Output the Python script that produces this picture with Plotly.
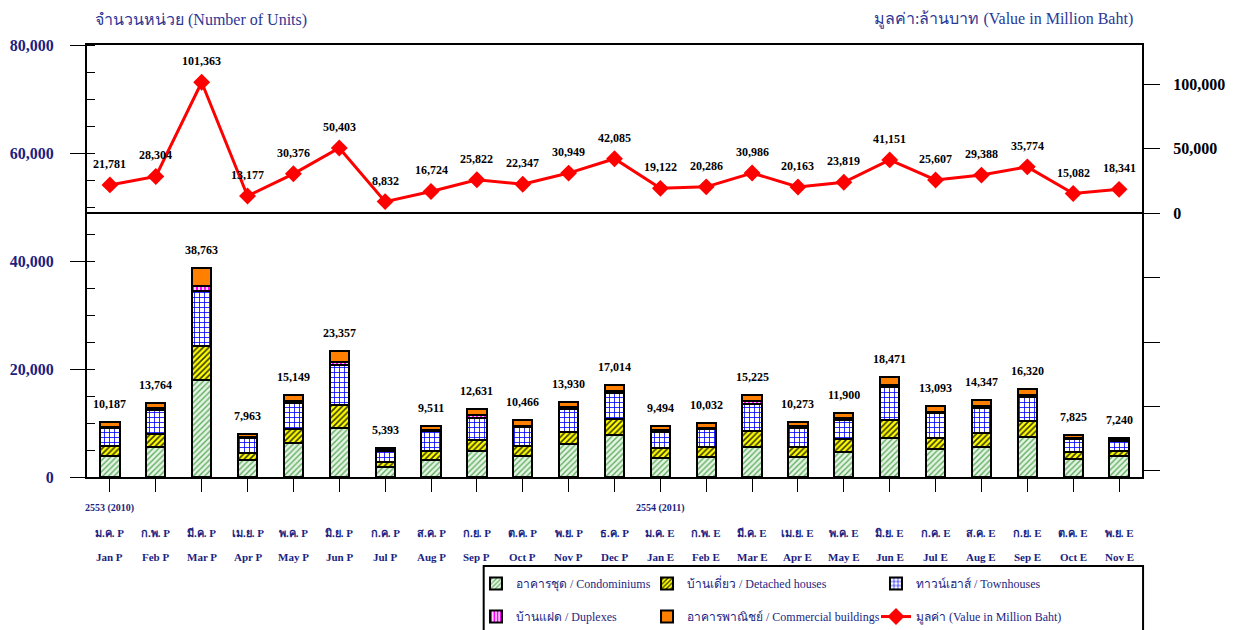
import plotly.graph_objects as go

# ---------------- data ----------------
months_en = ["Jan P", "Feb P", "Mar P", "Apr P", "May P", "Jun P", "Jul P", "Aug P",
             "Sep P", "Oct P", "Nov P", "Dec P", "Jan E", "Feb E", "Mar E", "Apr E",
             "May E", "Jun E", "Jul E", "Aug E", "Sep E", "Oct E", "Nov E"]
months_th = ["ม.ค. P", "ก.พ. P", "มี.ค. P", "เม.ย. P", "พ.ค. P", "มิ.ย. P", "ก.ค. P", "ส.ค. P",
             "ก.ย. P", "ต.ค. P", "พ.ย. P", "ธ.ค. P", "ม.ค. E", "ก.พ. E", "มี.ค. E", "เม.ย. E",
             "พ.ค. E", "มิ.ย. E", "ก.ค. E", "ส.ค. E", "ก.ย. E", "ต.ค. E", "พ.ย. E"]
year_labels = {0: "2553 (2010)", 12: "2554 (2011)"}

condominiums = [3900, 5600, 17900, 3100, 6300, 9100, 1800, 3100, 4750, 3900, 6100, 7850,
                3450, 3750, 5600, 3750, 4700, 7300, 5200, 5500, 7350, 3400, 3800]
detached = [1800, 2400, 6300, 1350, 2650, 4300, 1050, 1700, 2150, 1900, 2250, 2800,
            1850, 1850, 3000, 1850, 2250, 3250, 2100, 2600, 2950, 1150, 1100]
townhouses = [3300, 4400, 10200, 2750, 4750, 7400, 1900, 3650, 4100, 3400, 4300, 4900,
              3100, 3200, 5000, 3500, 3600, 6150, 4500, 4750, 4450, 2400, 1700]
duplexes = [200, 300, 1000, 250, 300, 500, 200, 300, 400, 300, 300, 400,
            300, 300, 400, 300, 300, 400, 300, 300, 450, 300, 250]
commercial = [987, 1064, 3363, 513, 1149, 2057, 443, 761, 1231, 966, 980, 1064,
              794, 932, 1225, 873, 1050, 1371, 993, 1197, 1120, 575, 390]
total_units = [10187, 13764, 38763, 7963, 15149, 23357, 5393, 9511, 12631, 10466, 13930, 17014,
               9494, 10032, 15225, 10273, 11900, 18471, 13093, 14347, 16320, 7825, 7240]
value_mb = [21781, 28304, 101363, 13177, 30376, 50403, 8832, 16724, 25822, 22347, 30949, 42085,
            19122, 20286, 30986, 20163, 23819, 41151, 25607, 29388, 35774, 15082, 18341]

left_ticks = [0, 20000, 40000, 60000, 80000]
right_ticks = [-200000, -150000, -100000, -50000, 0, 50000, 100000]
right_ticktext = ["", "", "", "", "0", "50,000", "100,000"]

# ---------------- style ----------------
SERIF = "Liberation Serif, Times New Roman, Noto Sans, DejaVu Serif, serif"
NAVY = "#1c1f82"
TITLE_BLUE = "#2b3896"
x = list(range(len(months_en)))
xr = [-0.5, len(months_en) - 0.5]
r_range = [-204660, 130240]

fig = go.Figure()

bar_specs = [
    ("อาคารชุด / Condominiums", condominiums, "legend",
     dict(shape="/", fgcolor="#5fae5f", bgcolor="#e6f4e6", size=4, solidity=0.35)),
    ("บ้านเดี่ยว / Detached houses", detached, "legend2",
     dict(shape="/", fgcolor="#3a3a00", bgcolor="#ffff00", size=4, solidity=0.4)),
    ("ทาวน์เฮาส์ / Townhouses", townhouses, "legend3",
     dict(shape="+", fgcolor="#0000ff", bgcolor="#ffffff", size=5, solidity=0.3)),
    ("บ้านแฝด / Duplexes", duplexes, "legend",
     dict(shape="|", fgcolor="#ff00ff", bgcolor="#ffd0ff", size=4, solidity=0.5)),
    ("อาคารพาณิชย์ / Commercial buildings", commercial, "legend2", None),
]
for i, (name, vals, leg, pat) in enumerate(bar_specs):
    marker = dict(line=dict(color="black", width=2))
    if pat is None:
        marker["color"] = "#ff8000"
    else:
        marker["color"] = pat["bgcolor"]
        marker["pattern"] = dict(fillmode="replace", **pat)
    fig.add_trace(go.Bar(x=x, y=vals, name=name, marker=marker, width=0.42,
                         legend=leg, legendgroup="g%d" % i, hoverinfo="y+name"))

fig.add_trace(go.Scatter(
    x=x, y=value_mb, yaxis="y2", name="มูลค่า (Value in Million Baht)",
    mode="lines+markers", line=dict(color="#ff0000", width=3),
    marker=dict(symbol="diamond", size=13, color="#ff0000"),
    legend="legend3", legendgroup="g9"))

annotations = []
for xi, t in zip(x, total_units):
    annotations.append(dict(x=xi, y=t, xref="x", yref="y", text="{:,}".format(t),
                            showarrow=False, yanchor="bottom", yshift=9,
                            font=dict(family=SERIF, size=12, color="black", weight="bold")))
for xi, v in zip(x, value_mb):
    annotations.append(dict(x=xi, y=v, xref="x", yref="y2", text="{:,}".format(v),
                            showarrow=False, yanchor="bottom", yshift=12,
                            font=dict(family=SERIF, size=12, color="black", weight="bold")))
for xi, th, en in zip(x, months_th, months_en):
    annotations.append(dict(x=xi, y=-0.1296, xref="x", yref="paper", text=th,
                            showarrow=False, yanchor="middle",
                            font=dict(family=SERIF, size=11, color=NAVY, weight="bold")))
    annotations.append(dict(x=xi, y=-0.185, xref="x", yref="paper", text=en,
                            showarrow=False, yanchor="middle",
                            font=dict(family=SERIF, size=11, color=NAVY, weight="bold")))
for xi, lab in year_labels.items():
    annotations.append(dict(x=xi, y=-0.0718, xref="x", yref="paper", text=lab,
                            showarrow=False, yanchor="middle",
                            font=dict(family=SERIF, size=10, color=NAVY, weight="bold")))
annotations.append(dict(x=0.0057, y=1.058, xref="paper", yref="paper",
                        text="จำนวนหน่วย (Number of Units)", showarrow=False,
                        xanchor="left", yanchor="middle",
                        font=dict(family=SERIF, size=16, color=TITLE_BLUE)))
annotations.append(dict(x=0.993, y=1.058, xref="paper", yref="paper",
                        text="มูลค่า:ล้านบาท (Value in Million Baht)", showarrow=False,
                        xanchor="right", yanchor="middle",
                        font=dict(family=SERIF, size=16, color=TITLE_BLUE)))

legend_common = dict(orientation="v", xref="container", yref="container",
                     yanchor="top", y=0.098, xanchor="left",
                     bgcolor="rgba(0,0,0,0)", borderwidth=0, tracegroupgap=14,
                     font=dict(family=SERIF, size=12, color=NAVY), itemwidth=30)

fig.update_layout(
    width=1227, height=622,
    margin=dict(l=79, r=93, t=37, b=153, autoexpand=False),
    paper_bgcolor="white", plot_bgcolor="white",
    barmode="stack",
    showlegend=True,
    legend=dict(x=0.3814, **legend_common),
    legend2=dict(x=0.5208, **legend_common),
    legend3=dict(x=0.7074, **legend_common),
    annotations=annotations,
    shapes=[dict(type="rect", xref="paper", yref="paper", x0=0.376, x1=1.001,
                 y0=-0.206, y1=-0.37, line=dict(color="black", width=2),
                 fillcolor="rgba(0,0,0,0)", layer="below")],
    xaxis=dict(range=xr, tickmode="array", tickvals=x, showticklabels=False,
               ticks="outside", ticklen=13, tickcolor="black", tickwidth=1,
               showline=True, linecolor="black", linewidth=2, mirror=True,
               showgrid=False, zeroline=False, automargin=False),
    xaxis2=dict(range=xr, overlaying="x", anchor="y", side="bottom",
                tickmode="array", tickvals=x, showticklabels=False,
                ticks="inside", ticklen=16, tickcolor="#777777", tickwidth=1,
                layer="above traces", showline=False, showgrid=False, zeroline=False,
                automargin=False),
    yaxis=dict(range=[0, 80000], tickmode="array", tickvals=left_ticks,
               ticktext=["{:,}".format(v) for v in left_ticks],
               ticks="outside", ticklen=15, tickcolor="black", tickwidth=1,
               ticklabelstandoff=13,
               minor=dict(ticks="inside", ticklen=8, tickmode="linear", tick0=0,
                          dtick=5000, tickcolor="black", showgrid=False),
               tickfont=dict(family=SERIF, size=16, color=NAVY, weight="bold"),
               showline=True, linecolor="black", linewidth=2,
               showgrid=False, zeroline=False, automargin=False),
    yaxis3=dict(range=[0, 80000], overlaying="y", side="left", anchor="x",
                tickmode="array", tickvals=left_ticks, showticklabels=False,
                ticks="inside", ticklen=16, tickcolor="black", tickwidth=1,
                showline=False, showgrid=False, zeroline=False, automargin=False),
    yaxis2=dict(range=r_range, overlaying="y", side="right", anchor="x",
                tickmode="array", tickvals=right_ticks, ticktext=right_ticktext,
                ticks="outside", ticklen=16, tickcolor="black", tickwidth=1,
                ticklabelstandoff=10,
                tickfont=dict(family=SERIF, size=16, color="black", weight="bold"),
                showline=True, linecolor="black", linewidth=2,
                showgrid=False, zeroline=True, zerolinecolor="black", zerolinewidth=2,
                automargin=False),
    yaxis4=dict(range=r_range, overlaying="y", side="right", anchor="x",
                tickmode="linear", tick0=0, dtick=10000, showticklabels=False,
                ticks="inside", ticklen=9, tickcolor="black", tickwidth=1,
                showline=False, showgrid=False, zeroline=False, automargin=False),
)

fig.write_html("out.html")
